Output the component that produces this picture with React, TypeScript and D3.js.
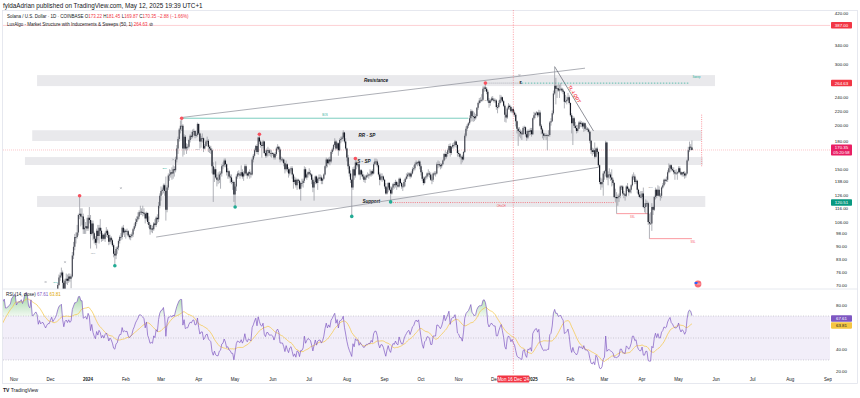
import React from 'react';
import * as d3 from 'd3';

const W = 860;
const H = 398;

// SOL/USD daily closes, starting 1 Sep 2023
const closes2023 = [
  19.8, 19.9, 19.7, 19.5, 19.4, 19.2, 19.6, 19.2, 19.1, 18.0, 17.5, 18.6, 18.9, 19.3, 19.2, 18.9, 18.8, 19.0, 19.6, 19.8, 19.1, 19.4, 19.3, 19.3, 19.4, 19.3, 19.8, 20.8, 21.5, 21.6,
  23.8, 23.5, 23.3, 22.6, 22.3, 23.4, 23.0, 22.3, 21.8, 21.9, 21.2, 21.3, 21.6, 21.9, 22.0, 24.0, 24.1, 23.4, 24.0, 27.9, 29.6, 30.5, 31.2, 32.8, 31.6, 31.7, 32.1, 32.8, 33.5, 37.0, 38.6,
  41.0, 41.1, 39.5, 41.3, 41.9, 42.0, 43.6, 43.0, 46.0, 55.0, 56.7, 56.0, 53.5, 53.0, 63.0, 57.0, 57.5, 59.5, 61.0, 60.0, 56.0, 59.0, 57.5, 58.6, 58.5, 57.4, 56.4, 58.0, 59.0, 59.0,
  61.0, 63.0, 61.6, 62.8, 64.0, 66.0, 70.0, 73.5, 74.5, 76.0, 71.0, 68.0, 72.0, 73.0, 72.0, 74.0, 73.0, 74.0, 85.0, 90.0, 96.0, 96.0, 99.0, 111.0, 112.0, 110.0, 110.0, 101.0, 102.0, 103.0, 101.6,
];
const closes2024 = [
  109, 107.5, 98, 105, 98.5, 95, 92.5, 100, 96.7, 102, 100, 95, 97.5, 95, 98.5, 100, 97.3, 93, 95.5, 94, 91, 86, 85, 88.8, 89.6, 93.6, 96, 96, 102, 99, 100,
  99.5, 99.8, 97, 95.8, 96.7, 97.7, 101, 103, 106, 108, 110, 113, 113.5, 113, 112.6, 112, 108.5, 112.5, 106, 104, 101, 101.5, 101, 105, 104, 109, 108, 118, 126,
  130, 131, 135, 130, 115, 133, 144, 145, 147, 146, 150, 149, 160, 172, 183, 195, 200, 200, 172, 186, 172, 174, 174, 182, 187, 186, 192, 193, 187, 188, 202,
  190, 180, 184, 184, 172, 175, 180, 181, 174, 172, 170, 153, 145, 150, 142, 140, 140, 145, 146, 153, 154, 159, 155, 147, 148, 143, 142, 138, 138, 127,
  134, 143, 146, 145, 144, 147, 143, 146, 153, 146, 144, 147, 146, 145, 160, 164, 170, 175, 168, 185, 180, 176, 175, 180, 167, 164, 170, 170, 167, 167, 167,
  166, 162, 166, 172, 174, 171, 160, 160, 160, 156, 150, 155, 150, 146, 150, 151, 145, 138, 140, 135, 140, 139, 132, 137, 137, 139, 150, 142, 145, 147,
  146, 145, 140, 133, 138, 143, 137, 141, 142, 142, 139, 141, 145, 153, 160, 156, 160, 158, 168, 171, 176, 180, 172, 178, 170, 182, 183, 185, 191, 180, 172,
  162, 153, 146, 140, 133, 150, 144, 157, 154, 155, 145, 149, 145, 143, 140, 142, 144, 144, 145, 145, 148, 146, 155, 158, 158, 154, 145, 140, 143, 143, 140,
  134, 128, 133, 137, 131, 128, 133, 136, 135, 138, 135, 134, 141, 137, 134, 134, 138, 141, 143, 145, 146, 143, 146, 150, 151, 155, 157, 156, 158, 153,
  147, 141, 137, 142, 143, 146, 146, 145, 140, 140, 146, 146, 146, 155, 155, 154, 153, 155, 159, 166, 163, 166, 170, 175, 167, 174, 176, 176, 180, 176, 167,
  166, 163, 163, 160, 168, 187, 196, 200, 203, 210, 220, 213, 212, 210, 213, 225, 232, 236, 236, 237, 255, 257, 255, 250, 236, 232, 236, 239, 237, 236,
  236, 226, 226, 232, 237, 241, 235, 228, 215, 211, 224, 228, 226, 220, 223, 218, 215, 206, 196, 193, 192, 190, 189, 197, 198, 189, 185, 193, 192, 194, 189,
];
const closes2025 = [
  210, 214, 217, 218, 214, 218, 200, 195, 190, 187, 188, 187, 188, 188, 204, 206, 217, 247, 260, 255, 256, 252, 254, 255, 252, 250, 234, 235, 237, 241, 232,
  214, 203, 210, 200, 197, 193, 196, 204, 202, 203, 199, 203, 196, 196, 195, 192, 181, 170, 168, 170, 163, 172, 168, 154, 138, 136, 138, 146,
  148, 179, 142, 145, 145, 142, 140, 137, 125, 125, 124, 125, 126, 134, 134, 128, 127, 126, 134, 132, 129, 131, 135, 143, 143, 138, 139, 131, 127, 125, 125,
  128, 117, 117, 120, 120, 106, 105, 105, 117, 115, 125, 131, 126, 131, 126, 126, 133, 135, 140, 139, 140, 147, 151, 154, 150, 149, 147, 146, 146, 147,
  151, 147, 145, 147, 146, 144, 146, 159, 170, 174, 173.22, 170.35,
];

// daily highs / lows, starting 1 Dec 2023
const highsDec23 = [62, 64, 63.5, 64.5, 65.5, 67.5, 71, 75, 76, 78.5, 77, 72.5, 73, 75.5, 75, 75.5, 75.5, 75, 87, 93, 98, 99, 104, 112, 126, 116, 116, 112, 108, 106, 109];
const lowsDec23 = [58.5, 60.5, 60.5, 60.8, 61.5, 63.5, 65.5, 69.5, 72, 73.5, 64.5, 66.5, 66, 70.5, 70, 71, 71.5, 68.5, 73.5, 83, 88, 92, 95, 97, 108, 103, 104, 98, 98, 98, 100];
const highs2024 = [
  111, 117, 111, 107, 107, 99.5, 96.5, 101.5, 104, 104, 108, 102, 98.5, 98, 99.5, 102.5, 101, 99, 97.5, 96.5, 95, 92, 87.5, 90, 90.5, 94.5, 97, 98.5, 103, 104, 101.5,
  101, 101.5, 100.5, 98, 98, 99, 102, 105, 108.5, 110, 113, 114.5, 118, 116, 118, 116, 113, 113.5, 113, 110, 105, 104, 103.5, 106, 108, 110, 111.5, 121, 128,
  134, 133, 136.5, 136.5, 143, 135, 146, 150, 149.5, 152, 154, 153, 163, 176, 186, 197, 207, 210, 202, 189, 188, 178, 177, 183.5, 189, 192, 195, 196, 194, 190, 204,
  203, 191, 187, 190, 185, 177, 182, 186, 183, 176, 175, 172, 157, 152, 158, 145, 147, 148, 148, 155, 157, 161, 161, 156, 151, 149, 145, 145, 140, 139,
  136, 145, 148, 149, 147, 154, 150, 148, 155, 155, 147, 148, 150, 148, 162, 166, 172, 176, 177, 186, 189, 182, 179, 182, 181, 170, 172, 174, 172, 171, 170,
  168, 167, 168, 174, 177, 175, 173, 163, 162, 161, 157, 159, 156, 152, 151, 153, 153, 146, 143, 142, 141, 141, 140, 138, 141, 141, 153, 152, 146, 148,
  151, 149, 146, 142, 139, 144, 144, 142, 145, 145, 144, 142, 146, 154, 162, 161, 162, 163, 170, 173, 177, 184, 182, 180, 179, 184, 186, 187, 194, 192, 184,
  173, 165, 155, 149, 141, 152, 153, 161, 159, 157, 157, 150, 150, 148, 145, 144, 145, 147, 146, 150, 149, 150, 157, 161, 161, 160, 156, 147, 146, 146, 144,
  141, 137, 134, 138, 138, 134, 134, 137, 138, 140, 139, 137, 142, 142, 138, 136, 140, 142, 146, 147, 147, 147, 148, 152, 154, 157, 159, 158, 159, 159,
  155, 149, 143, 143, 144, 147, 150, 148, 147, 143, 147, 148, 148, 157, 159, 158, 156, 156, 160, 167, 170, 168, 172, 177, 178, 175, 178, 179, 182, 181, 177,
  170, 167, 164, 165, 169, 190, 199, 202, 205, 214, 223, 222, 220, 218, 216, 226, 234, 240, 241, 246, 259, 260, 264.63, 258, 253, 240, 238, 242, 243, 240,
  239, 238, 229, 236, 245, 244, 242, 237, 230, 218, 226, 232, 230, 228, 224, 226, 221, 217, 207, 198, 198, 195, 193, 199, 200, 199, 193, 195, 195, 197, 197,
];
const lows2024 = [
  100, 105, 89, 97, 94, 92, 91, 89, 94, 92, 98, 93, 93.5, 94, 93, 96, 95.5, 91, 91.5, 92, 90, 84, 79.5, 83, 86, 88, 92, 94, 94.5, 97.5, 96,
  95, 97.5, 96, 94.5, 94, 95.5, 96, 100, 102, 104.5, 107, 108, 111, 111, 110, 110.5, 105, 107, 104.5, 102, 97.5, 99, 98.5, 100, 103, 102.5, 105, 106, 116,
  122, 127, 128, 126, 107, 113, 131, 139, 142, 140, 141, 143, 147, 157, 166, 180, 190, 193, 163, 165, 170, 166, 170, 172, 179, 183, 184, 188, 184, 185, 186,
  188, 172, 173, 179, 168, 171, 174, 177, 168, 167, 166, 146, 121, 138, 141, 134, 136, 137, 132, 143, 150, 152, 152, 144, 141, 141, 137, 136, 131, 121,
  117, 130, 141, 143, 141, 143, 141, 139, 144, 144, 141, 143, 141, 142, 144, 157, 162, 168, 166, 165, 177, 173, 162, 172, 166, 162, 162, 163, 164, 163, 162,
  164, 160, 160, 164, 170, 168, 157, 158, 157, 153, 146, 148, 147, 142, 144, 148, 141, 132, 136, 133, 131, 137, 131, 122, 134, 133, 137, 141, 140, 142,
  144, 143, 136, 129, 122, 136, 136, 131, 139, 139, 136, 136, 140, 144, 151, 152, 155, 154, 156, 166, 169, 174, 170, 171, 164, 169, 178, 180, 183, 178, 170,
  158, 150, 143, 137, 110, 131, 140, 142, 150, 152, 144, 140, 143, 141, 138, 137, 140, 142, 141, 143, 143, 144, 145, 154, 155, 152, 143, 135, 139, 138, 139,
  132, 127, 127, 129, 130, 121, 127, 131, 132, 133, 131, 133, 133, 136, 132, 130, 133, 134, 140, 141, 143, 141, 142, 145, 148, 149, 154, 153, 154, 150,
  144, 139, 135, 136, 140, 141, 143, 142, 139, 136, 138, 144, 143, 145, 151, 152, 150, 151, 154, 158, 160, 161, 163, 168, 163, 165, 172, 172, 174, 173, 163,
  163, 161, 155, 157, 159, 167, 185, 193, 197, 201, 205, 206, 205, 206, 208, 212, 222, 230, 232, 234, 235, 250, 251, 246, 233, 225, 228, 234, 235, 233,
  232, 222, 217, 224, 230, 233, 233, 226, 205, 204, 209, 222, 222, 218, 217, 214, 212, 199, 190, 175, 186, 184, 182, 188, 194, 186, 181, 183, 187, 188, 186,
];
const highs2025 = [
  211, 219, 218, 220, 219, 222, 221, 202, 197, 191, 190, 190, 189, 194, 206, 210, 221, 252, 295, 274, 261, 263, 262, 265, 257, 255, 251, 245, 242, 248, 244,
  233, 217, 213, 212, 205, 201, 201, 206, 207, 206, 205, 205, 204, 200, 198, 197, 193, 182, 173, 172, 179, 173, 174, 169, 155, 142, 141, 148,
  149, 181, 180, 148, 151, 147, 150, 142, 138, 132, 129, 127, 128, 135, 135, 135, 130, 128, 135, 137, 133, 132, 136, 145, 147, 145, 141, 140, 132, 129, 130,
  130, 133, 120, 123, 122, 121, 112, 113, 120, 118, 126, 133, 132, 135, 134, 128, 134, 137, 141, 141, 143, 149, 156, 155, 155, 152, 152, 149, 150, 148,
  153, 153, 148, 147, 148, 148, 147, 160, 174, 180, 177, 181.45,
];
const lows2025 = [
  188, 208, 210, 214, 211, 212, 198, 189, 184, 182, 185, 182, 170, 186, 186, 200, 205, 215, 245, 230, 240, 250, 240, 251, 249, 246, 224, 232, 230, 235, 230,
  212, 190, 176, 197, 195, 190, 191, 195, 198, 198, 196, 192, 193, 194, 192, 190, 178, 166, 164, 166, 161, 162, 166, 152, 136, 131, 133, 126,
  140, 143, 140, 135, 141, 139, 134, 135, 124, 121, 112, 118, 121, 124, 131, 126, 124, 122, 125, 130, 126, 128, 128, 134, 140, 136, 136, 128, 125, 124, 124,
  123, 116, 113, 112, 118, 104, 95, 104, 100, 111, 114, 123, 124, 126, 125, 122, 124, 132, 134, 136, 138, 138, 146, 147, 148, 148, 145, 140, 145, 140,
  146, 146, 144, 143, 143, 141, 142, 145, 158, 168, 170, 169.87,
];

const priceTicks = [420, 340, 300, 240, 220, 200, 180, 150, 138, 126, 116, 106, 98, 90, 83, 76, 70];
const rsiTicks = [80, 40, 20];
const monthLabels = ['Nov', 'Dec', '2024', 'Feb', 'Mar', 'Apr', 'May', 'Jun', 'Jul', 'Aug', 'Sep', 'Oct', 'Nov', 'Dec', '2025', 'Feb', 'Mar', 'Apr', 'May', 'Jun', 'Jul', 'Aug', 'Sep'];

// structure zones [label, fromDate, toDate, lowPrice, highPrice]
const zones: [string, string, string, number, number][] = [
  ['Resistance', '2023-11-20', '2025-05-31', 259.5, 279],
  ['RR - SP', '2023-11-16', '2025-05-20', 180.7, 194],
  ['S - SP', '2023-11-10', '2025-05-21', 154.3, 162.6],
  ['Support', '2023-11-20', '2025-05-23', 117, 125.8],
];
const swingHighs: [string, number][] = [['2023-12-25', 126], ['2024-03-18', 210], ['2024-05-21', 189], ['2024-08-08', 161], ['2024-11-23', 264.63]];
const swingLows: [string, number][] = [['2024-01-23', 79.5], ['2024-05-01', 117], ['2024-08-05', 110], ['2024-09-06', 121]];
const crossMarks: [string, number][] = [['2023-11-27', 71.4], ['2023-12-13', 81.4], ['2024-01-28', 132.5], ['2024-03-11', 160], ['2024-12-21', 279]];
const idmLabels: [string, number, string][] = [
  ['2023-12-05', 71, '#22ab94'], ['2024-03-04', 150, '#22ab94'], ['2024-03-31', 170, '#9598a1'],
  ['2024-11-24', 235, '#9598a1'], ['2025-04-08', 133, '#9598a1'], ['2024-01-05', 86, '#9598a1'],
];

const LAST = { open: 173.22, high: 181.45, low: 169.87, close: 170.35, change: -2.88, pct: -1.66, rsi: 67.61, rsiMa: 63.81 };
const TOP_LINE = 387;
const CHOCH = 120.51;
const MARKED_DAY = '2024-12-16';

const FONT = '"Liberation Sans", Arial, sans-serif';
const d = (s: string) => new Date(s + 'T00:00:00Z');

export default function App() {
  const closes = [...closes2023, ...closes2024, ...closes2025];
  const highs = [...highsDec23, ...highs2024, ...highs2025];
  const lows = [...lowsDec23, ...lows2024, ...lows2025];
  const start = Date.UTC(2023, 8, 1);
  const dates = closes.map((_, i) => new Date(start + i * 86400000));
  const candleStart = closes.length - highs.length;

  const x = d3.scaleUtc().domain([d('2023-11-01'), d('2025-09-01')]).range([14, 828]);
  const y = d3.scaleLog().domain([70, 420]).range([285, 13]);
  const r = d3.scaleLinear().domain([20, 80]).range([371, 305]);

  const PL = 3, PR = 830, PT = 10, PB = 289, RB = 374;

  // candles
  let wicks = '';
  let upBodies = '';
  let downBodies = '';
  for (let i = candleStart; i < closes.length; i++) {
    const o = closes[i - 1];
    const c = closes[i];
    const hi = Math.max(highs[i - candleStart], o, c);
    const lo = Math.min(lows[i - candleStart], o, c);
    const cx = x(dates[i]);
    wicks += `M${cx.toFixed(2)},${y(hi).toFixed(2)}V${y(lo).toFixed(2)}`;
    const top = y(Math.max(o, c));
    const bot = Math.max(y(Math.min(o, c)), top + 0.8);
    const seg = `M${(cx - 0.6).toFixed(2)},${top.toFixed(2)}h1.2V${bot.toFixed(2)}h-1.2Z`;
    if (c >= o) upBodies += seg; else downBodies += seg;
  }

  // RSI 14 (Wilder) and its 14 SMA
  const rsi: (number | null)[] = closes.map(() => null);
  let ag = 0, al = 0;
  for (let i = 1; i < closes.length; i++) {
    const ch = closes[i] - closes[i - 1];
    const g = Math.max(ch, 0), l = Math.max(-ch, 0);
    if (i <= 14) {
      ag += g / 14; al += l / 14;
    } else {
      ag = (ag * 13 + g) / 14; al = (al * 13 + l) / 14;
    }
    if (i >= 14) rsi[i] = al === 0 ? 100 : 100 - 100 / (1 + ag / al);
  }
  const rsiMa: (number | null)[] = rsi.map((_, i) => {
    if (i < 27) return null;
    let s = 0;
    for (let k = i - 13; k <= i; k++) s += rsi[k] as number;
    return s / 14;
  });
  const idx = d3.range(closes.length);
  const rsiLine = d3.line<number>().defined(i => rsi[i] != null).x(i => x(dates[i])).y(i => r(rsi[i] as number));
  const maLine = d3.line<number>().defined(i => rsiMa[i] != null).x(i => x(dates[i])).y(i => r(rsiMa[i] as number));
  const obArea = d3.area<number>().defined(i => rsi[i] != null).x(i => x(dates[i])).y0(r(70)).y1(i => r(Math.max(rsi[i] as number, 70)));

  const pd = (s: string, p: number) => [x(d(s)), y(p)];
  const seg = (a: string, pa: number, b: string, pb: number) => {
    const [x1, y1] = pd(a, pa);
    const [x2, y2] = pd(b, pb);
    return { x1, y1, x2, y2 };
  };

  const upper = seg('2024-03-18', 211, '2025-02-13', 292);
  const lower = seg('2024-02-26', 96, '2025-02-24', 152);
  const downTl = seg('2025-01-19', 295, '2025-02-20', 193);
  const bos = seg('2024-03-18', 210, '2024-11-09', 210);
  const sweepGray = seg('2024-11-23', 264.63, '2024-12-22', 264.63);
  const sweepTeal = seg('2024-12-23', 264.63, '2025-05-10', 264.63);
  const choch = seg('2024-09-06', CHOCH, '2025-03-10', CHOCH);
  const ssl1 = seg('2025-03-11', 112, '2025-04-06', 112);
  const ssl2 = seg('2025-04-07', 95, '2025-05-12', 95);
  const proj = seg('2025-05-20', 215, '2025-05-20', 152);
  const mx = x(d(MARKED_DAY));

  const months = d3.utcMonth.range(d('2023-11-01'), d('2025-10-01'));
  const fmt = (v: number) => v.toFixed(2);

  const axisBox = (py: number, label: string, fill: string, key: string, sub?: string) => {
    const h = sub ? 11 : 6.5;
    return (
      <g key={key}>
        <rect x={831} y={py - 3.3} width={21} height={h} rx={0.8} fill={fill} />
        <text x={841.5} y={py + 1.6} fontSize={4.4} fill="#fff" textAnchor="middle">{label}</text>
        {sub && <text x={841.5} y={py + 6.3} fontSize={4.2} fill="#fff" textAnchor="middle">{sub}</text>}
      </g>
    );
  };

  return (
    <svg width={W} height={H} viewBox={`0 0 ${W} ${H}`} style={{ position: 'fixed', left: 0, top: 0, background: '#fff' }} fontFamily={FONT}>
      <defs>
        <clipPath id="pricePane"><rect x={PL} y={PT} width={PR - PL} height={PB - PT} /></clipPath>
        <clipPath id="rsiPane"><rect x={PL} y={PB} width={PR - PL} height={RB - PB} /></clipPath>
        <clipPath id="timeAxis"><rect x={0} y={RB} width={832} height={10} /></clipPath>
        <linearGradient id="obGrad" x1="0" y1={r(100)} x2="0" y2={r(70)} gradientUnits="userSpaceOnUse">
          <stop offset="0" stopColor="#4caf50" stopOpacity={0.75} />
          <stop offset="1" stopColor="#4caf50" stopOpacity={0.08} />
        </linearGradient>
      </defs>

      <text x={3} y={7.5} fontSize={6.3} fill="#131722">fyldaAdrian published on TradingView.com, May 12, 2025 19:39 UTC+1</text>
      <rect x={2.5} y={10.5} width={855} height={373} fill="none" stroke="#e0e3eb" strokeWidth={0.8} />

      {/* price pane */}
      <g clipPath="url(#pricePane)">
        {zones.map(([label, a, b, lo, hi]) => (
          <rect key={label} x={x(d(a))} y={y(hi)} width={x(d(b)) - x(d(a))} height={y(lo) - y(hi)} fill="#e9e9ec" />
        ))}
        <line x1={PL} x2={PR} y1={y(TOP_LINE)} y2={y(TOP_LINE)} stroke="#f7525f" strokeOpacity={0.35} strokeWidth={0.8} />
        <line x1={PL} x2={PR} y1={y(LAST.close)} y2={y(LAST.close)} stroke="#f7525f" strokeOpacity={0.55} strokeWidth={0.6} strokeDasharray="1 1" />
        {zones.map(([label, a, b, lo, hi]) => (
          <text key={label} x={(x(d(a)) + x(d(b))) / 2} y={(y(hi) + y(lo)) / 2 + 1.6} fontSize={4.6} fontStyle="italic" fontWeight="bold" fill="#131722" textAnchor="middle">{label}</text>
        ))}
        <line {...upper} stroke="#8a8d96" strokeWidth={0.7} />
        <line {...lower} stroke="#8a8d96" strokeWidth={0.7} />
        <line {...downTl} stroke="#5d606b" strokeWidth={0.7} />
        <line {...bos} stroke="#22ab94" strokeWidth={0.6} />
        <text x={(bos.x1 + bos.x2) / 2} y={bos.y1 - 2.5} fontSize={2.6} fill="#22ab94" textAnchor="middle">BOS</text>
        <line {...sweepGray} stroke="#9598a1" strokeWidth={0.7} strokeDasharray="1 1" />
        <line {...sweepTeal} stroke="#22ab94" strokeWidth={0.7} strokeDasharray="1.5 1.5" />
        <text x={sweepTeal.x2 + 3} y={sweepTeal.y2 - 5} fontSize={2.6} fill="#22ab94">Sweep</text>
        <text x={sweepGray.x2} y={sweepGray.y2 + 1} fontSize={4} fontWeight="bold" fill="#131722" textAnchor="middle">$</text>
        <line {...choch} stroke="#f7525f" strokeWidth={0.7} strokeDasharray="1 1.2" />
        <text x={x(d('2024-12-06'))} y={choch.y1 + 4.5} fontSize={2.6} fill="#f7525f" textAnchor="middle">CHoCH</text>
        <line {...ssl1} stroke="#f7525f" strokeWidth={0.6} />
        <text x={(ssl1.x1 + ssl1.x2) / 2} y={ssl1.y1 + 4} fontSize={2.6} fill="#f7525f" textAnchor="middle">SSL</text>
        <line {...ssl2} stroke="#f7525f" strokeWidth={0.6} />
        <text x={ssl2.x2 + 1} y={ssl2.y2 + 4} fontSize={2.6} fill="#f7525f" textAnchor="middle">SSL</text>
        <line {...proj} stroke="#f7525f" strokeWidth={0.6} strokeDasharray="1 1.2" />
        <text x={(downTl.x1 + downTl.x2) / 2 - 1} y={(downTl.y1 + downTl.y2) / 2 - 4} fontSize={4.6} fontStyle="italic" fontWeight="bold" fill="#f23645"
          transform={`rotate(58 ${(downTl.x1 + downTl.x2) / 2 - 1} ${(downTl.y1 + downTl.y2) / 2 - 4})`} textAnchor="middle">TL-LQDT</text>
        {crossMarks.map(([s, p], i) => {
          const [cx, cy] = pd(s, p);
          return <path key={i} d={`M${cx - 1},${cy - 1}L${cx + 1},${cy + 1}M${cx - 1},${cy + 1}L${cx + 1},${cy - 1}`} stroke="#9598a1" strokeWidth={0.5} />;
        })}
        {idmLabels.map(([s, p, c], i) => {
          const [cx, cy] = pd(s, p);
          return <text key={i} x={cx} y={cy} fontSize={2.4} fill={c} textAnchor="middle">IDM</text>;
        })}
        <path d={wicks} stroke="#8f929b" strokeWidth={0.7} fill="none" />
        <path d={upBodies} fill="#4a4d57" />
        <path d={downBodies} fill="#131722" />
        {swingHighs.map(([s, p], i) => {
          const [cx, cy] = pd(s, p);
          return <circle key={i} cx={cx} cy={cy} r={1.8} fill="#f7525f" />;
        })}
        {swingLows.map(([s, p], i) => {
          const [cx, cy] = pd(s, p);
          return <circle key={i} cx={cx} cy={cy} r={1.8} fill="#22ab94" />;
        })}
        <g transform={`translate(${x(d('2025-05-17'))},284)`}>
          <circle r={3.4} fill="#f7525f" fillOpacity={0.85} />
          <rect x={-3.4} y={-2} width={3} height={2} fill="#2962ff" />
          <path d="M-1,0H2.5" stroke="#fff" strokeWidth={0.5} />
        </g>
      </g>

      <text x={7} y={17.5} fontSize={4.5} fill="#131722">
        Solana / U.S. Dollar · 1D · COINBASE{'  '}
        <tspan>O</tspan><tspan fill="#f23645">{fmt(LAST.open)}</tspan>{'  '}
        <tspan>H</tspan><tspan fill="#f23645">{fmt(LAST.high)}</tspan>{'  '}
        <tspan>L</tspan><tspan fill="#f23645">{fmt(LAST.low)}</tspan>{'  '}
        <tspan>C</tspan><tspan fill="#f23645">{fmt(LAST.close)}</tspan>{'  '}
        <tspan fill="#f23645">{`−${Math.abs(LAST.change).toFixed(2)} (−${Math.abs(LAST.pct).toFixed(2)}%)`}</tspan>
      </text>
      <text x={7} y={25.5} fontSize={4.5} fill="#131722">
        LuxAlgo - Market Structure with Inducements &amp; Sweeps (50, 1){' '}
        <tspan fill="#f23645">264.63</tspan>{' '}⊘
      </text>

      {/* separators */}
      <line x1={2.5} x2={857.5} y1={PB} y2={PB} stroke="#e0e3eb" strokeWidth={0.8} />

      {/* RSI pane */}
      <g clipPath="url(#rsiPane)">
        <rect x={PL} y={r(70)} width={PR - PL} height={r(30) - r(70)} fill="#7e57c2" fillOpacity={0.1} />
        {[70, 50, 30].map(v => (
          <line key={v} x1={PL} x2={PR} y1={r(v)} y2={r(v)} stroke="#9598a1" strokeWidth={0.6} strokeDasharray="1 1.5" strokeOpacity={0.7} />
        ))}
        <path d={obArea(idx) || ''} fill="url(#obGrad)" />
        <path d={maLine(idx) || ''} fill="none" stroke="#f5c542" strokeWidth={0.7} />
        <path d={rsiLine(idx) || ''} fill="none" stroke="#7e57c2" strokeWidth={0.7} />
      </g>
      <text x={6} y={296} fontSize={4.5} fill="#131722">
        RSI (14, close){' '}<tspan fill="#7e57c2">{LAST.rsi.toFixed(2)}</tspan>{' '}<tspan fill="#e0a800">{LAST.rsiMa.toFixed(2)}</tspan>
      </text>

      {/* marked day */}
      <line x1={mx} x2={mx} y1={PT} y2={RB} stroke="#f7525f" strokeWidth={0.6} strokeDasharray="1.2 1.2" strokeOpacity={0.8} />

      {/* price axis */}
      {priceTicks.map(v => (
        <text key={v} x={841.5} y={y(v) + 1.5} fontSize={4.4} fill="#131722" textAnchor="middle">{fmt(v)}</text>
      ))}
      {axisBox(y(TOP_LINE), fmt(TOP_LINE), '#f23645', 'top')}
      {axisBox(y(264.63), '264.63', '#f23645', 'sweep')}
      {axisBox(y(LAST.close) - 2.2, fmt(LAST.close), '#e91e63', 'last', '05:20:58')}
      {axisBox(y(CHOCH), fmt(CHOCH), '#089981', 'choch')}

      {/* rsi axis */}
      {rsiTicks.map(v => (
        <text key={v} x={841.5} y={r(v) + 1.5} fontSize={4.4} fill="#131722" textAnchor="middle">{fmt(v)}</text>
      ))}
      <g>
        <rect x={831} y={r(LAST.rsi) - 3.3} width={21} height={6.5} rx={0.8} fill="#7e57c2" />
        <text x={841.5} y={r(LAST.rsi) + 1.6} fontSize={4.4} fill="#fff" textAnchor="middle">{LAST.rsi.toFixed(2)}</text>
        <rect x={831} y={r(LAST.rsi) + 3.5} width={21} height={6.5} rx={0.8} fill="#f5c542" />
        <text x={841.5} y={r(LAST.rsi) + 8.4} fontSize={4.4} fill="#131722" textAnchor="middle">{LAST.rsiMa.toFixed(2)}</text>
      </g>

      {/* time axis */}
      <g clipPath="url(#timeAxis)">
        {months.map((m, i) => (
          <text key={i} x={x(m)} y={380.5} fontSize={4.5} fill="#131722" textAnchor="middle" fontWeight={/^\d/.test(monthLabels[i]) ? 'bold' : 'normal'}>{monthLabels[i]}</text>
        ))}
      </g>
      <rect x={mx - 16} y={375.5} width={32} height={7} rx={0.8} fill="#f23645" />
      <text x={mx} y={380.5} fontSize={4.5} fill="#fff" textAnchor="middle">Mon 16 Dec '24</text>

      <text x={3} y={392} fontSize={5} fill="#131722"><tspan fontWeight="bold">TV</tspan> TradingView</text>
    </svg>
  );
}
